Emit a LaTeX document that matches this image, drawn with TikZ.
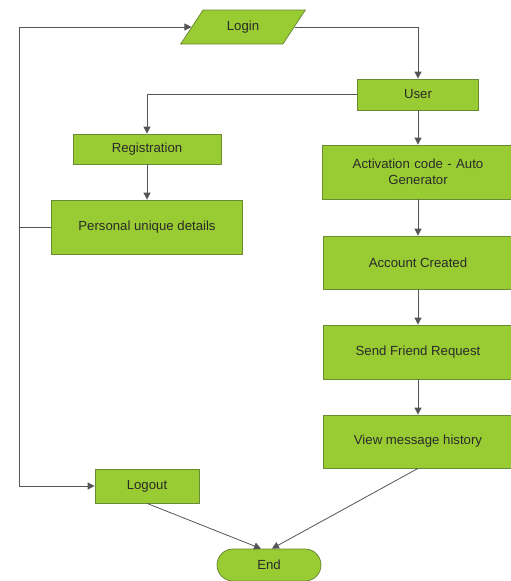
\documentclass[tikz,border=0pt]{standalone}
\usepackage{fontspec}
\setmainfont{Liberation Sans}
\usetikzlibrary{shapes.geometric, arrows.meta}
\definecolor{boxgreen}{HTML}{99CC33}
\definecolor{boxline}{HTML}{6A8A35}
\definecolor{linegray}{HTML}{555555}
\definecolor{textgray}{HTML}{2A2A2A}

\begin{document}
\begin{tikzpicture}[x=1pt,y=1pt,>={Triangle[length=7pt,width=7pt]},font=\fontsize{13.2}{16}\selectfont]
		\tikzstyle{every node}=[text=textgray]
		\tikzstyle{box}=[rectangle,draw=boxline,fill=boxgreen,line width=0.8pt,align=center,inner sep=2pt]
		\tikzstyle{flow}=[->,draw=linegray,line width=0.8pt]
		\path[use as bounding box] (0,0) rectangle (511,-581);
		\node[trapezium,trapezium left angle=56,trapezium right angle=124,trapezium stretches=true,draw=boxline,fill=boxgreen,line width=0.8pt,minimum width=125,minimum height=34,inner sep=1pt] (login) at (243,-27) {Login};
		\node[box,minimum width=121,minimum height=31]  (user)   at (418,-94.5) {User};
		\node[box,minimum width=148,minimum height=30]  (reg)    at (147,-149)    {Registration};
		\node[box,minimum width=191,minimum height=54]  (detail) at (147,-227)  {Personal unique details};
		\node[box,minimum width=192,minimum height=54,text width=170] (code) at (418,-172) {Activation code - Auto\\Generator};
		\node[box,minimum width=190,minimum height=53]  (account) at (418,-262.5) {Account Created};
		\node[box,minimum width=190,minimum height=54]  (friend) at (418,-352)    {Send Friend Request};
		\node[box,minimum width=190,minimum height=53]  (history) at (418,-441.5) {View message history};
		\node[box,minimum width=104,minimum height=34]  (logout) at (147,-486)    {Logout};
		\node[box,rounded corners=16,minimum width=104,minimum height=32] (end) at (269,-565) {End};
		\coordinate (rail) at (19,-227);
		\draw[flow] (login.east) -| (user.north);
		\draw[flow] (user.west) -| (reg.north);
		\draw[flow] (reg) -- (detail);
		\draw[flow] (user) -- (code);
		\draw[flow] (code) -- (account);
		\draw[flow] (account) -- (friend);
		\draw[flow] (friend) -- (history);
		\draw[flow] (logout.south) -- ([xshift=-8]end.north);
		\draw[flow] (history.south) -- ([xshift=3]end.north);
		\draw[linegray,line width=0.8pt] (detail.west) -- (rail);
		\draw[flow] (rail) |- (login);
		\draw[flow] (rail) |- (logout);
	\end{tikzpicture}
\end{document}
